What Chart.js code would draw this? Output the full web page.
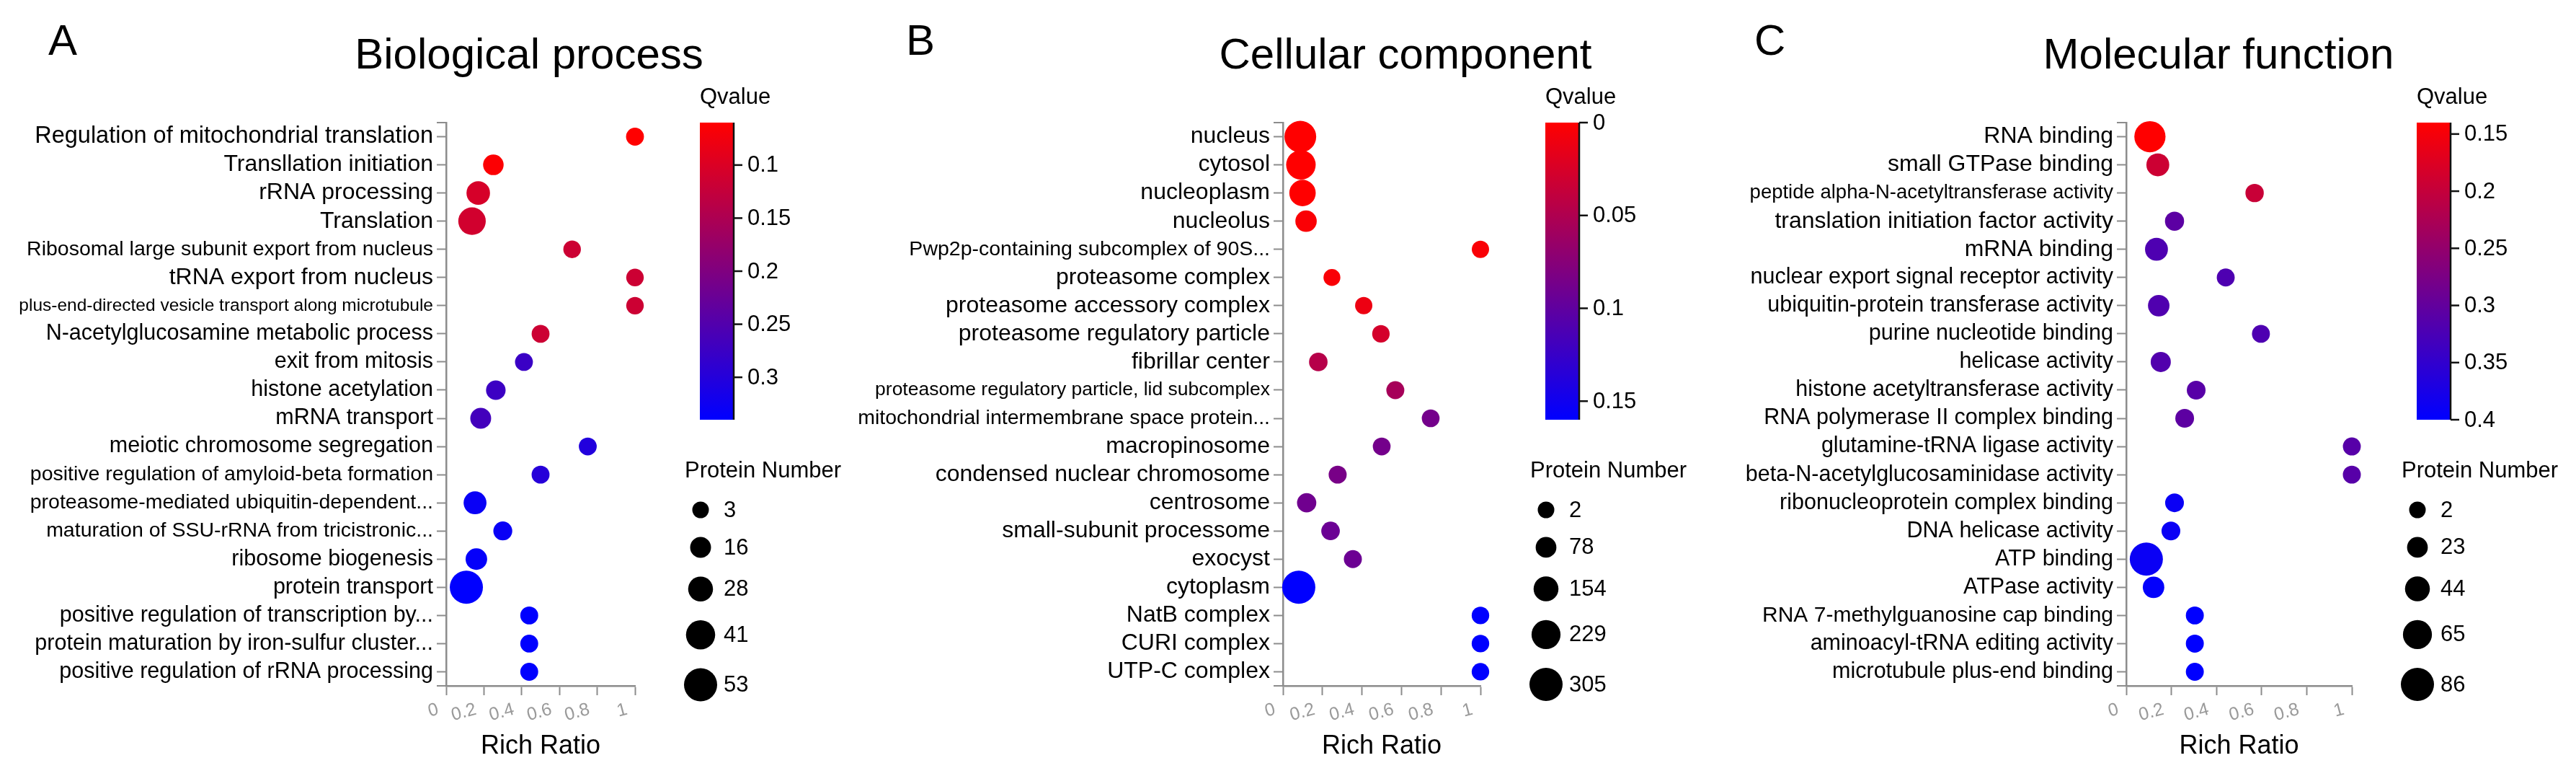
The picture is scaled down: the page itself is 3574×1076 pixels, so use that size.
<!DOCTYPE html>
<html>
<head>
<meta charset="utf-8">
<script src="https://cdn.jsdelivr.net/npm/chart.js@4.4.1/dist/chart.umd.min.js"></script>
<style>
  html, body { margin: 0; padding: 0; background: #fff; }
  body { width: 3574px; height: 1076px; position: relative; overflow: hidden; }
  canvas { position: absolute; top: 0; }
</style>
</head>
<body>
<canvas id="cA" width="1180" height="1076" style="left:0px"></canvas>
<canvas id="cB" width="1190" height="1076" style="left:1180px"></canvas>
<canvas id="cC" width="1204" height="1076" style="left:2370px"></canvas>
<script>
// ---------------- DATA ----------------
const bpTerms = [
  "Regulation of mitochondrial translation",
  "Transllation initiation",
  "rRNA processing",
  "Translation",
  "Ribosomal large subunit export from nucleus",
  "tRNA export from nucleus",
  "plus-end-directed vesicle transport along microtubule",
  "N-acetylglucosamine metabolic process",
  "exit from mitosis",
  "histone acetylation",
  "mRNA transport",
  "meiotic chromosome segregation",
  "positive regulation of amyloid-beta formation",
  "proteasome-mediated ubiquitin-dependent...",
  "maturation of SSU-rRNA from tricistronic...",
  "ribosome biogenesis",
  "protein transport",
  "positive regulation of transcription by...",
  "protein maturation by iron-sulfur cluster...",
  "positive regulation of rRNA processing"
];
const bpRatio = [1, 0.25, 0.17, 0.137, 0.667, 1, 1, 0.5, 0.412, 0.263, 0.183, 0.75, 0.5, 0.153, 0.3, 0.16, 0.107, 0.44, 0.44, 0.44];
const bpCount = [7, 15, 24, 36, 6, 6, 6, 7, 7, 12, 16, 7, 7, 22, 10, 18, 53, 7, 7, 7];
const bpQ     = [0.06, 0.063, 0.105, 0.11, 0.116, 0.116, 0.116, 0.116, 0.276, 0.274, 0.266, 0.303, 0.298, 0.33, 0.33, 0.335, 0.34, 0.34, 0.34, 0.34];
const bpQRange = [0.06, 0.34];
const bpQTicks = [0.1, 0.15, 0.2, 0.25, 0.3];
const bpSizeTicks = [3, 16, 28, 41, 53];

const ccTerms = [
  "nucleus",
  "cytosol",
  "nucleoplasm",
  "nucleolus",
  "Pwp2p-containing subcomplex of 90S...",
  "proteasome complex",
  "proteasome accessory complex",
  "proteasome regulatory particle",
  "fibrillar center",
  "proteasome regulatory particle, lid subcomplex",
  "mitochondrial intermembrane space protein...",
  "macropinosome",
  "condensed nuclear chromosome",
  "centrosome",
  "small-subunit processome",
  "exocyst",
  "cytoplasm",
  "NatB complex",
  "CURI complex",
  "UTP-C complex"
];
const ccRatio = [0.088, 0.091, 0.099, 0.117, 1, 0.248, 0.409, 0.496, 0.179, 0.569, 0.748, 0.5, 0.277, 0.12, 0.241, 0.354, 0.08, 1, 1, 1];
const ccCount = [279, 239, 182, 90, 15, 8, 15, 19, 38, 28, 24, 24, 28, 51, 38, 28, 305, 19, 19, 19];
const ccQ     = [0, 0, 0, 0.003, 0.004, 0.004, 0.011, 0.027, 0.046, 0.056, 0.087, 0.087, 0.085, 0.09, 0.093, 0.092, 0.16, 0.16, 0.16, 0.16];
const ccQRange = [0, 0.16];
const ccQTicks = [0, 0.05, 0.1, 0.15];
const ccSizeTicks = [2, 78, 154, 229, 305];

const mfTerms = [
  "RNA binding",
  "small GTPase binding",
  "peptide alpha-N-acetyltransferase activity",
  "translation initiation factor activity",
  "mRNA binding",
  "nuclear export signal receptor activity",
  "ubiquitin-protein transferase activity",
  "purine nucleotide binding",
  "helicase activity",
  "histone acetyltransferase activity",
  "RNA polymerase II complex binding",
  "glutamine-tRNA ligase activity",
  "beta-N-acetylglucosaminidase activity",
  "ribonucleoprotein complex binding",
  "DNA helicase activity",
  "ATP binding",
  "ATPase activity",
  "RNA 7-methylguanosine cap binding",
  "aminoacyl-tRNA editing activity",
  "microtubule plus-end binding"
];
const mfRatio = [0.105, 0.14, 0.569, 0.214, 0.134, 0.441, 0.144, 0.597, 0.153, 0.31, 0.259, 1, 1, 0.214, 0.198, 0.089, 0.121, 0.304, 0.304, 0.304];
const mfCount = [76, 34, 11, 15, 34, 9, 27, 9, 20, 13, 13, 9, 9, 13, 13, 86, 27, 9, 9, 9];
const mfQ     = [0.14, 0.192, 0.196, 0.306, 0.32, 0.32, 0.318, 0.32, 0.316, 0.31, 0.305, 0.311, 0.311, 0.39, 0.39, 0.39, 0.397, 0.4, 0.4, 0.4];
const mfQRange = [0.14, 0.40];
const mfQTicks = [0.15, 0.2, 0.25, 0.3, 0.35, 0.4];
const mfSizeTicks = [2, 23, 44, 65, 86];

const xTicksStep = 0.2;

// ---------------- STYLE ----------------
const FONT = "'Liberation Sans', Arial, Helvetica, sans-serif";
const AXIS = '#8c8c8c';

const labelSizesBP = [32.5,32,32,32,28.5,32,24.5,30.5,30.5,30.5,30.5,30.5,28.5,28.5,28.5,30.5,30.5,30.5,30.5,30.5];
const labelSizesCC = [32,32,32,32,28.5,32,32,32,32,26.5,28.5,32,32,32,32,32,32,32,32,32];
const labelSizesMF = [32,32,27.5,32,32,30.5,30.5,30.5,30.5,30.5,30.5,30.5,30.5,30.5,30.5,30.5,30.5,30,30.5,30.5];

function radius(n, sizeTicks) {
  const lo = sizeTicks[0], hi = sizeTicks[sizeTicks.length - 1];
  const d = 23 + (n - lo) / (hi - lo) * 23;
  return d / 2;
}
function qColor(q, range) {
  let t = (q - range[0]) / (range[1] - range[0]);
  t = Math.max(0, Math.min(1, t));
  return `rgb(${Math.round(255 * (1 - t))},0,${Math.round(255 * t)})`;
}

const extras = {
  id: 'extras',
  afterDraw(chart, args, p) {
    const ctx = chart.ctx, ca = chart.chartArea;
    ctx.save();
    ctx.fillStyle = '#000';
    ctx.textBaseline = 'alphabetic';
    // panel letter + title
    ctx.font = `60px ${FONT}`;
    ctx.textAlign = 'left';
    ctx.fillText(p.letter, p.letterX, 76);
    ctx.textAlign = 'center';
    ctx.fillText(p.title, p.titleX, 95);
    // end ticks of y axis
    ctx.strokeStyle = AXIS; ctx.lineWidth = 2;
    [ca.top, ca.bottom].forEach(y => {
      ctx.beginPath(); ctx.moveTo(ca.left - 13, y); ctx.lineTo(ca.left, y); ctx.stroke();
    });
    // colour bar
    const cx = ca.right + 90, cw = 47, ct = 170, cb = 582;
    const g = ctx.createLinearGradient(0, ct, 0, cb);
    g.addColorStop(0, qColor(p.qRange[0], p.qRange));
    g.addColorStop(1, qColor(p.qRange[1], p.qRange));
    ctx.fillStyle = g;
    ctx.fillRect(cx, ct, cw, cb - ct);
    ctx.strokeStyle = '#111'; ctx.lineWidth = 2.5;
    ctx.beginPath(); ctx.moveTo(cx + cw, ct); ctx.lineTo(cx + cw, cb); ctx.stroke();
    ctx.fillStyle = '#000';
    ctx.font = `31px ${FONT}`;
    ctx.textAlign = 'left';
    ctx.textBaseline = 'middle';
    p.qTicks.forEach(v => {
      const y = ct + (v - p.qRange[0]) / (p.qRange[1] - p.qRange[0]) * (cb - ct);
      ctx.beginPath(); ctx.moveTo(cx + cw, y); ctx.lineTo(cx + cw + 12, y); ctx.stroke();
      ctx.fillText(String(v), cx + cw + 19, y + 1);
    });
    ctx.textBaseline = 'alphabetic';
    ctx.fillText('Qvalue', cx, 144);
    // size legend
    ctx.fillText('Protein Number', ca.right + 69, 662);
    let y = 707, prevR = 0;
    p.sizeTicks.forEach((n, i) => {
      const r = radius(n, p.sizeTicks);
      if (i > 0) y += prevR + r + 26;
      ctx.beginPath(); ctx.arc(ca.right + 91, y, r, 0, Math.PI * 2);
      ctx.fillStyle = '#000'; ctx.fill();
      ctx.textBaseline = 'middle';
      ctx.fillText(String(n), ca.right + 123, y + 1);
      prevR = r;
    });
    ctx.restore();
  }
};

function makeChart(id, cfg) {
  const pts = cfg.terms.map((t, i) => ({ x: cfg.ratio[i], y: t, r: radius(cfg.count[i], cfg.sizeTicks) }));
  return new Chart(document.getElementById(id), {
    type: 'bubble',
    data: {
      labels: cfg.terms,
      datasets: [{
        data: pts,
        backgroundColor: cfg.q.map(q => qColor(q, cfg.qRange)),
        borderWidth: 0,
        clip: false
      }]
    },
    options: {
      responsive: false,
      animation: false,
      events: [],
      layout: { autoPadding: false, padding: { left: 0, right: cfg.padRight, top: 170, bottom: 0 } },
      plugins: {
        legend: { display: false },
        tooltip: { enabled: false },
        extras: {
          letter: cfg.letter, letterX: cfg.letterX, title: cfg.title, titleX: cfg.titleX,
          qRange: cfg.qRange, qTicks: cfg.qTicks, sizeTicks: cfg.sizeTicks
        }
      },
      scales: {
        x: {
          type: 'linear', min: 0, max: 1,
          ticks: {
            stepSize: xTicksStep, autoSkip: false, minRotation: 15, maxRotation: 15,
            font: { size: 25, family: FONT }, color: '#9a9a9a', padding: 5, labelOffset: -11,
            callback: (v) => String(Number(Number(v).toFixed(2)))
          },
          grid: { drawOnChartArea: false, drawTicks: true, tickLength: 13, tickWidth: 2, tickColor: AXIS },
          border: { display: true, color: AXIS, width: 2.5 },
          title: { display: true, text: 'Rich Ratio', color: '#000', font: { size: 36, family: FONT }, padding: { top: 0, bottom: 19 } },
          afterFit(s) { s.height = 125; }
        },
        y: {
          type: 'category', labels: cfg.terms, offset: true,
          ticks: {
            autoSkip: false, color: '#000', padding: 5,
            font: (c) => ({ size: cfg.labelSizes[c.index] || 30, family: FONT })
          },
          grid: { offset: false, drawOnChartArea: false, drawTicks: true, tickLength: 13, tickWidth: 2, tickColor: AXIS },
          border: { display: true, color: AXIS, width: 2.5 },
          afterFit(s) { s.width = cfg.yWidth; }
        }
      }
    },
    plugins: [extras]
  });
}

makeChart('cA', {
  terms: bpTerms, ratio: bpRatio, count: bpCount, q: bpQ,
  qRange: bpQRange, qTicks: bpQTicks, sizeTicks: bpSizeTicks, labelSizes: labelSizesBP,
  yWidth: 619, padRight: 1180 - 881,
  letter: 'A', letterX: 67, title: 'Biological process', titleX: 734
});
makeChart('cB', {
  terms: ccTerms, ratio: ccRatio, count: ccCount, q: ccQ,
  qRange: ccQRange, qTicks: ccQTicks, sizeTicks: ccSizeTicks, labelSizes: labelSizesCC,
  yWidth: 600, padRight: 1190 - 874,
  letter: 'B', letterX: 77, title: 'Cellular component', titleX: 770
});
makeChart('cC', {
  terms: mfTerms, ratio: mfRatio, count: mfCount, q: mfQ,
  qRange: mfQRange, qTicks: mfQTicks, sizeTicks: mfSizeTicks, labelSizes: labelSizesMF,
  yWidth: 580, padRight: 1204 - 893,
  letter: 'C', letterX: 64, title: 'Molecular function', titleX: 708
});
</script>
</body>
</html>
